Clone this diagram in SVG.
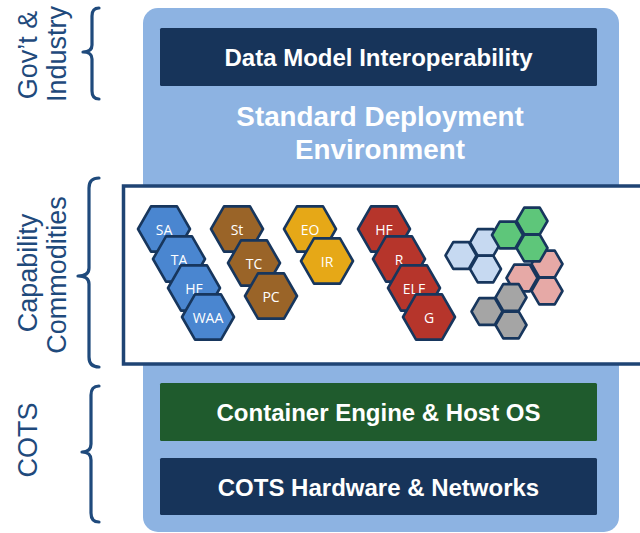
<svg xmlns="http://www.w3.org/2000/svg" xmlns:xlink="http://www.w3.org/1999/xlink" width="640" height="533" viewBox="0 0 640 533">
<style>
.side{font-family:"Liberation Sans",Arial,sans-serif;font-size:27px;fill:#1f4a7c;}
.brace{fill:none;stroke:#1f4a7c;stroke-width:3.2;stroke-linecap:round;stroke-linejoin:round;}
.bar{font-family:"Liberation Sans",Arial,sans-serif;font-size:24px;font-weight:bold;fill:#ffffff;text-anchor:middle;}
.sde{font-family:"Liberation Sans",Arial,sans-serif;font-size:27.8px;font-weight:bold;fill:#ffffff;text-anchor:middle;}
.hx{stroke:#17365d;stroke-width:2.6;stroke-linejoin:round;}
.ht{font-family:"Open Sans","Noto Sans",sans-serif;font-size:14px;fill:#ffffff;text-anchor:middle;}
.blue{fill:#4a86d0;}
.brown{fill:#9a6428;}
.yellow{fill:#e6a817;}
.red{fill:#b6352b;}
.lblue{fill:#c6d9f1;}
.green{fill:#5ec67a;}
.pink{fill:#e6a9a6;}
.gray{fill:#a5a5a5;}
</style>
<defs>
<polygon id="hexL" points="-26,0 -13,-22.6 13,-22.6 26,0 13,22.6 -13,22.6"/>
<polygon id="hexS" points="-15.5,0 -7.75,-13.4 7.75,-13.4 15.5,0 7.75,13.4 -7.75,13.4"/>
</defs>

<g id="side-labels">
  <g id="label-govt">
    <text class="side" transform="translate(37,55) rotate(-90)" text-anchor="middle">Gov’t &amp;</text>
    <text class="side" transform="translate(66,54) rotate(-90)" text-anchor="middle">Industry</text>
    <path class="brace" d="M99,8 Q92,8 92,16 L92,45 Q92,52 83,52 Q92,52 92,59 L92,91 Q92,99 99,99"/>
  </g>
  <g id="label-capability">
    <text class="side" transform="translate(37,273) rotate(-90)" text-anchor="middle">Capability</text>
    <text class="side" transform="translate(66,275) rotate(-90)" text-anchor="middle">Commodities</text>
    <path class="brace" d="M99,178 Q89,178 89,188 L89,268 Q89,276 78,276 Q89,276 89,284 L89,357 Q89,367 99,367"/>
  </g>
  <g id="label-cots">
    <text class="side" transform="translate(37,440) rotate(-90)" text-anchor="middle">COTS</text>
    <path class="brace" d="M99,386 Q91,386 91,395 L91,444 Q91,452 82,452 Q91,452 91,460 L91,513 Q91,522 99,522"/>
  </g>
</g>

<g id="sde">
  <rect x="143" y="8" width="476" height="524" rx="15" ry="15" fill="#8db3e2"/>
  <text class="sde" x="380" y="126">Standard Deployment</text>
  <text class="sde" x="380" y="159">Environment</text>
</g>

<g id="data-model">
  <rect x="160" y="28" width="437" height="58" rx="1.5" fill="#17345a"/>
  <text class="bar" x="378.5" y="65.5">Data Model Interoperability</text>
</g>

<g id="capability-box">
  <rect x="123.5" y="186" width="530" height="178" fill="#ffffff" stroke="#1f4474" stroke-width="3.5"/>
</g>

<g id="hex-blue">
  <use href="#hexL" xlink:href="#hexL" class="hx blue" x="164" y="229"/>
  <text class="ht" x="164" y="234.5">SA</text>
  <use href="#hexL" xlink:href="#hexL" class="hx blue" x="179" y="259"/>
  <text class="ht" x="179" y="264.5">TA</text>
  <use href="#hexL" xlink:href="#hexL" class="hx blue" x="194" y="288"/>
  <text class="ht" x="194" y="293.5">HF</text>
  <use href="#hexL" xlink:href="#hexL" class="hx blue" x="208" y="317"/>
  <text class="ht" x="208" y="322.5">WAA</text>
</g>

<g id="hex-brown">
  <use href="#hexL" xlink:href="#hexL" class="hx brown" x="237" y="229"/>
  <text class="ht" x="237" y="234.5">St</text>
  <use href="#hexL" xlink:href="#hexL" class="hx brown" x="254" y="263"/>
  <text class="ht" x="254" y="268.5">TC</text>
  <use href="#hexL" xlink:href="#hexL" class="hx brown" x="271" y="296"/>
  <text class="ht" x="271" y="301.5">PC</text>
</g>

<g id="hex-yellow">
  <use href="#hexL" xlink:href="#hexL" class="hx yellow" x="310" y="229"/>
  <text class="ht" x="310" y="234.5">EO</text>
  <use href="#hexL" xlink:href="#hexL" class="hx yellow" x="327" y="261"/>
  <text class="ht" x="327" y="266.5">IR</text>
</g>

<g id="hex-red">
  <use href="#hexL" xlink:href="#hexL" class="hx red" x="384" y="229"/>
  <text class="ht" x="384" y="234.5">HF</text>
  <use href="#hexL" xlink:href="#hexL" class="hx red" x="399" y="259"/>
  <text class="ht" x="399" y="264.5">R</text>
  <use href="#hexL" xlink:href="#hexL" class="hx red" x="414" y="288"/>
  <text class="ht" x="414" y="293.5">ELF</text>
  <use href="#hexL" xlink:href="#hexL" class="hx red" x="429" y="317"/>
  <text class="ht" x="429" y="322.5">G</text>
</g>

<g id="hex-lightblue">
  <use href="#hexS" xlink:href="#hexS" class="hx lblue" x="461" y="255.5"/>
  <use href="#hexS" xlink:href="#hexS" class="hx lblue" x="485.5" y="242.5"/>
  <use href="#hexS" xlink:href="#hexS" class="hx lblue" x="485.5" y="269"/>
</g>
<g id="hex-pink">
  <use href="#hexS" xlink:href="#hexS" class="hx pink" x="547" y="264"/>
  <use href="#hexS" xlink:href="#hexS" class="hx pink" x="522" y="278"/>
  <use href="#hexS" xlink:href="#hexS" class="hx pink" x="547" y="291"/>
</g>
<g id="hex-gray">
  <use href="#hexS" xlink:href="#hexS" class="hx gray" x="511" y="297.5"/>
  <use href="#hexS" xlink:href="#hexS" class="hx gray" x="487" y="311.5"/>
  <use href="#hexS" xlink:href="#hexS" class="hx gray" x="511" y="325"/>
</g>
<g id="hex-green">
  <use href="#hexS" xlink:href="#hexS" class="hx green" x="532" y="221"/>
  <use href="#hexS" xlink:href="#hexS" class="hx green" x="507.5" y="235"/>
  <use href="#hexS" xlink:href="#hexS" class="hx green" x="532" y="248"/>
</g>

<g id="container-engine">
  <rect x="160" y="383" width="437" height="58" rx="1.5" fill="#1f5b2d"/>
  <text class="bar" x="378.5" y="420.5">Container Engine &amp; Host OS</text>
</g>

<g id="cots-hardware">
  <rect x="160" y="458" width="437" height="57" rx="1.5" fill="#17345a"/>
  <text class="bar" x="378.5" y="496">COTS Hardware &amp; Networks</text>
</g>

<g id="connectors"></g>
</svg>
